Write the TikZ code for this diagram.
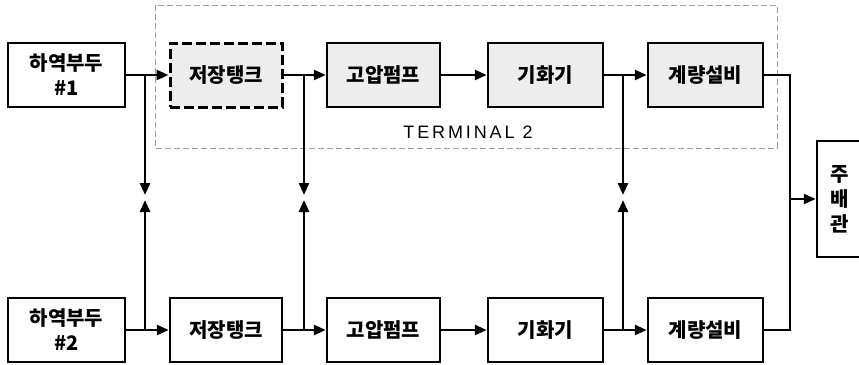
\documentclass[tikz,border=0pt]{standalone}
\usepackage{fontspec}
\setmainfont{Liberation Sans}
\newfontfamily\kor{Noto Sans CJK KR}
\newfontfamily\termfont{Liberation Sans}[LetterSpace=16]
\usetikzlibrary{arrows.meta}

\tikzset{
  unit/.style={draw,line width=2.5pt,minimum width=115pt,minimum height=64pt,inner sep=0pt,
    align=center,font=\kor\bfseries\fontsize{20}{25}\selectfont},
  shaded/.style={unit,fill=gray!14},
  flow/.style={line width=2.6pt,-{Triangle[length=12pt,width=10pt]}},
  pipe/.style={line width=2.6pt},
  terminal/.style={draw=gray!75,line width=0.8pt,dash pattern=on 6pt off 3pt}
}

\begin{document}
\begin{tikzpicture}[x=1pt,y=-1pt]
  \useasboundingbox (0,0) rectangle (859,364);
  % terminal 2
  \draw[terminal] (155,5) rectangle (777,148);
  \node[font=\termfont\fontsize{18}{20}\selectfont] (term) at (468,132) {TERMINAL 2};
  % top row
  \node[unit,minimum width=117pt] (dock1) at (66.5,75) {하역부두\\\#1};
  \node[shaded,line width=3pt,dash pattern=on 10pt off 4pt,minimum width=112pt] (tank1) at (226,75) {저장탱크};
  \node[shaded,minimum width=113pt] (pump1) at (383.5,75) {고압펌프};
  \node[shaded] (vap1) at (545.5,75) {기화기};
  \node[shaded] (meter1) at (705.5,75) {계량설비};
  % bottom row
  \node[unit,minimum width=117pt] (dock2) at (66.5,330) {하역부두\\\#2};
  \node[unit,minimum width=112pt] (tank2) at (226,330) {저장탱크};
  \node[unit,minimum width=113pt] (pump2) at (383.5,330) {고압펌프};
  \node[unit] (vap2) at (545.5,330) {기화기};
  \node[unit] (meter2) at (705.5,330) {계량설비};
  % main pipe
  \node[unit,minimum width=54pt,minimum height=116pt,text width=40pt,inner xsep=0pt] (main) at (844,199)
    {\hspace*{-8pt}주\\\hspace*{-8pt}배\\\hspace*{-8pt}관};

  \coordinate (d1) at (145,195);
  \coordinate (u1) at (145,200);
  \coordinate (d2) at (304,195);
  \coordinate (u2) at (304,200);
  \coordinate (d3) at (623,195);
  \coordinate (u3) at (623,200);
  \coordinate (m) at (790,199);

  \draw[flow] (dock1) -- (tank1);
  \draw[flow] (tank1) -- (pump1);
  \draw[flow] (pump1) -- (vap1);
  \draw[flow] (vap1) -- (meter1);
  \draw[flow] (dock2) -- (tank2);
  \draw[flow] (tank2) -- (pump2);
  \draw[flow] (pump2) -- (vap2);
  \draw[flow] (vap2) -- (meter2);

  \draw[flow] (dock1.east -| d1) -- (d1);
  \draw[flow] (dock2.east -| u1) -- (u1);
  \draw[flow] (tank1.east -| d2) -- (d2);
  \draw[flow] (tank2.east -| u2) -- (u2);
  \draw[flow] (vap1.east -| d3) -- (d3);
  \draw[flow] (vap2.east -| u3) -- (u3);

  \draw[pipe] (meter1) -| (m);
  \draw[pipe] (meter2) -| (m);
  \draw[flow] (m) -- (main);
\end{tikzpicture}
\end{document}
